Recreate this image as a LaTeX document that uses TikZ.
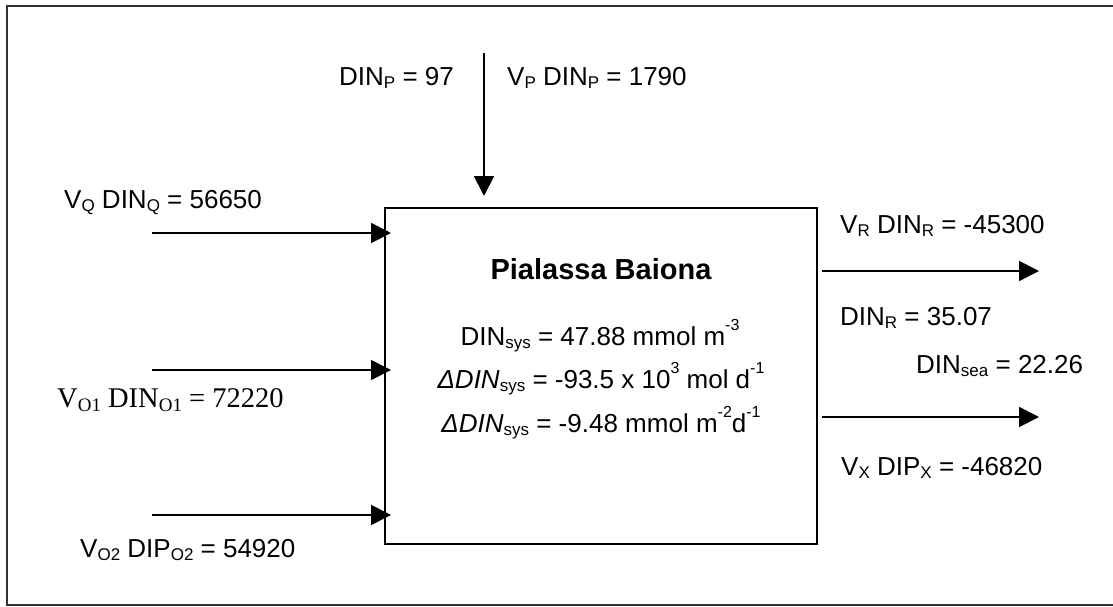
\documentclass[tikz,border=0pt]{standalone}
\usepackage{fontspec}
\setmainfont{Liberation Sans}
\newfontfamily\tnr{Liberation Serif}
\usetikzlibrary{arrows.meta}
\newcommand\lo[1]{\raisebox{-0.15em}{\fontsize{17}{17}\selectfont #1}}
\newcommand\tlo[1]{\raisebox{-0.15em}{\fontsize{19}{19}\selectfont #1}}
\newcommand\hi[1]{\raisebox{0.55em}{\fontsize{16}{16}\selectfont #1}}
\tikzset{
  lbl/.style={inner sep=0pt, font=\fontsize{26}{30}\selectfont},
  tlbl/.style={inner sep=0pt, font=\tnr\fontsize{28.5}{32}\selectfont},
  arr/.style={line width=1.8pt, -{Triangle[length=20pt,width=20pt]}},
  frame/.style={line width=2pt, black!80},
  sysbox/.style={draw, line width=2pt, minimum width=432pt, minimum height=336pt, inner sep=0pt}
}
\begin{document}
\begin{tikzpicture}[x=1pt,y=-1pt]
\useasboundingbox (0,0) rectangle (1113,606);
\draw[frame] (1115,6) -- (7,6) -- (7,605) -- (1115,605);
\node[sysbox] (sys) at (601,376) {};
% connectors
\coordinate (pin) at (484,53);
\draw[arr, shorten >=11pt] (pin) -- (pin |- sys.north);
\coordinate (qin) at (152,233);
\draw[arr, shorten >=-7pt] (qin) -- (qin -| sys.west);
\coordinate (oain) at (152,370);
\draw[arr, shorten >=-7pt] (oain) -- (oain -| sys.west);
\coordinate (obin) at (152,515);
\draw[arr, shorten >=-7pt] (obin) -- (obin -| sys.west);
\coordinate (rout) at (1039,271);
\draw[arr, shorten <=4pt] (rout -| sys.east) -- (rout);
\coordinate (xout) at (1039,417);
\draw[arr, shorten <=4pt] (xout -| sys.east) -- (xout);
% labels
\node[lbl, anchor=base west] (dinp) at (339,85) {DIN\lo{P} = 97};
\node[lbl, anchor=base west] (vpdinp) at (507,85) {V\lo{P} DIN\lo{P} = 1790};
\node[lbl, anchor=base west] (vq) at (64,208) {V\lo{Q} DIN\lo{Q} = 56650};
\node[tlbl, anchor=base west] (vo1) at (57,407) {V\tlo{O1} DIN\tlo{O1} = 72220};
\node[lbl, anchor=base west] (vo2) at (80,557) {V\lo{O2} DIP\lo{O2} = 54920};
\node[inner sep=0pt, anchor=base, font=\fontsize{29}{32}\selectfont\bfseries] (title) at (601,279) {Pialassa Baiona};
\node[lbl, anchor=base] (l1) at (600,345) {DIN\lo{sys} = 47.88 mmol m\hi{-3}};
\node[lbl, anchor=base] (l2) at (601,388) {\textit{ΔDIN}\lo{sys} = -93.5 x 10\hi{3} mol d\hi{-1}};
\node[lbl, anchor=base] (l3) at (601,432) {\textit{ΔDIN}\lo{sys} = -9.48 mmol m\hi{-2}d\hi{-1}};
\node[lbl, anchor=base west] (vr) at (840,233) {V\lo{R} DIN\lo{R} = -45300};
\node[lbl, anchor=base west] (dinr) at (840,325) {DIN\lo{R} = 35.07};
\node[lbl, anchor=base west] (dinsea) at (916,373) {DIN\lo{sea} = 22.26};
\node[lbl, anchor=base west] (vx) at (841,475) {V\lo{X} DIP\lo{X} = -46820};
\end{tikzpicture}
\end{document}
